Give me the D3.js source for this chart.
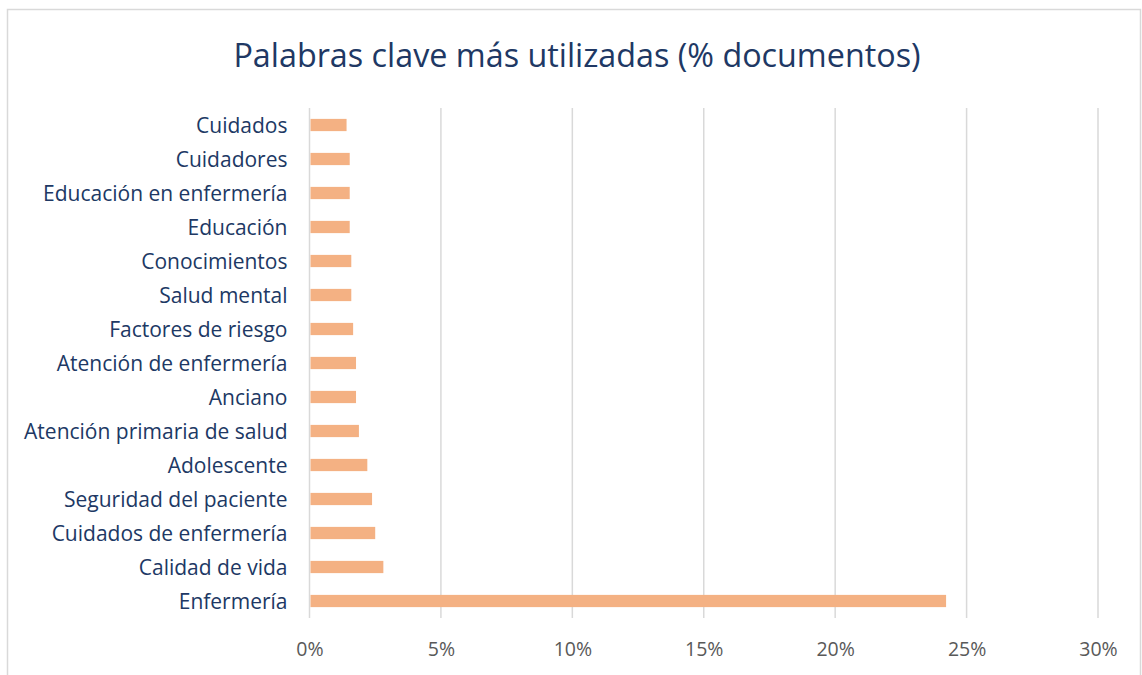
<!DOCTYPE html>
<html>
<head>
<meta charset="utf-8">
<script src="https://cdn.jsdelivr.net/npm/d3@7"></script>
<style>
  body { margin: 0; background: #fff; }
  svg { display: block; }
</style>
</head>
<body>
<svg></svg>
<script>
const categories = [
    'Cuidados', 'Cuidadores', 'Educación en enfermería', 'Educación',
    'Conocimientos', 'Salud mental', 'Factores de riesgo',
    'Atención de enfermería', 'Anciano', 'Atención primaria de salud',
    'Adolescente', 'Seguridad del paciente', 'Cuidados de enfermería',
    'Calidad de vida', 'Enfermería'
];
const values = [1.41, 1.53, 1.53, 1.53, 1.59, 1.59, 1.66, 1.77, 1.77, 1.88, 2.2, 2.38, 2.5, 2.81, 24.22];
const xTicks = [0, 5, 10, 15, 20, 25, 30];

const svgWidth = 1142;
const svgHeight = 675;
const margin = { top: 108, right: 44, bottom: 57, left: 309.5 };
const width = svgWidth - margin.left - margin.right;
const height = svgHeight - margin.top - margin.bottom;
const font = '"Open Sans", sans-serif';

const root = d3.select('svg')
    .attr('width', svgWidth)
    .attr('height', svgHeight);

// chart frame
root.append('rect')
    .attr('x', 7.5)
    .attr('y', 9.5)
    .attr('width', 1133)
    .attr('height', 700)
    .attr('fill', 'none')
    .attr('stroke', '#d9d9d9')
    .attr('stroke-width', 1.5);

root.append('text')
    .attr('x', 577)
    .attr('y', 67)
    .attr('text-anchor', 'middle')
    .attr('font-family', font)
    .attr('font-size', '32.3px')
    .attr('fill', '#203864')
    .text('Palabras clave más utilizadas (% documentos)');

const svg = root.append('g')
    .attr('transform', `translate(${margin.left}, ${margin.top})`);

const xScale = d3.scaleLinear()
    .domain([0, 30])
    .range([0, 788.5]);

const yScale = d3.scaleBand()
    .domain(categories)
    .range([0, height])
    .paddingInner(0.64)
    .paddingOuter(0.32);

// gridlines
svg.selectAll('.grid')
    .data(xTicks)
    .enter().append('line')
    .attr('class', 'grid')
    .attr('x1', d => xScale(d))
    .attr('x2', d => xScale(d))
    .attr('y1', 0)
    .attr('y2', height)
    .attr('stroke', '#d9d9d9')
    .attr('stroke-width', 1.5);

svg.selectAll('.bar')
    .data(values)
    .enter().append('rect')
    .attr('class', 'bar')
    .attr('x', xScale(0) + 1)
    .attr('y', (d, i) => yScale(categories[i]))
    .attr('width', d => xScale(d) - 1)
    .attr('height', yScale.bandwidth())
    .attr('fill', '#f4b183');

const xAxis = svg.append('g')
    .attr('transform', `translate(0, ${height})`)
    .call(d3.axisBottom(xScale).tickValues(xTicks).tickFormat(d => d + '%').tickSize(0).tickPadding(24));
xAxis.select('.domain').remove();
xAxis.selectAll('text')
    .attr('font-family', font)
    .attr('font-size', '19.5px')
    .attr('fill', '#595959');

const yAxis = svg.append('g')
    .call(d3.axisLeft(yScale).tickSize(0).tickPadding(22));
yAxis.select('.domain').remove();
yAxis.selectAll('text')
    .attr('font-family', font)
    .attr('font-size', '21px')
    .attr('dy', '0.4em')
    .attr('fill', '#203864');
</script>
</body>
</html>
